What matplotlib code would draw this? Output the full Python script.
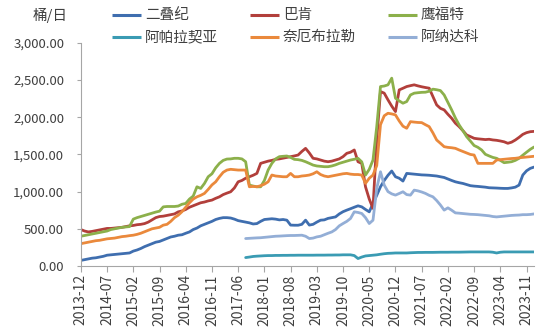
import matplotlib
matplotlib.use("Agg")
import matplotlib.pyplot as plt
import numpy as np
from matplotlib.lines import Line2D
from matplotlib.ticker import FuncFormatter

plt.rcParams["font.family"] = ["Noto Sans CJK SC", "DejaVu Sans"]

# monthly, 2013-12 .. 2024-01
months = [f"{2013 + (11 + k) // 12}-{(11 + k) % 12 + 1:02d}" for k in range(122)]
tick_labels = months[::7][:18]

permian = [
    75, 85, 95, 105, 110, 120, 130, 145, 150, 155, 160, 165,
    170, 175, 200, 215, 235, 260, 280, 300, 320, 330, 350, 370,
    390, 400, 414, 420, 440, 458, 490, 510, 540, 560, 580, 600,
    625, 640, 650, 650, 645, 630, 610, 600, 590, 580, 565, 570,
    600, 625, 630, 635, 630, 620, 625, 616, 550, 548, 548, 560,
    616, 550, 560, 590, 616, 620, 640, 650, 660, 700, 730, 751,
    770, 790, 809, 795, 760, 728, 841, 950, 1065, 1150, 1220, 1277,
    1200, 1180, 1142, 1245, 1240, 1235, 1230, 1225, 1223, 1220, 1215, 1210,
    1200, 1190, 1170, 1150, 1132, 1120, 1110, 1095, 1080, 1074, 1070, 1065,
    1060, 1052, 1050, 1048, 1045, 1043, 1043, 1050, 1060, 1088, 1223, 1280,
    1313, 1330,
]
bakken = [
    490, 470, 458, 465, 475, 485, 495, 505, 505, 510, 515, 520,
    530, 540, 545, 555, 560, 570, 590, 620, 650, 665, 670, 680,
    690, 700, 728, 740, 760, 790, 810, 830, 850, 860, 875, 886,
    910, 930, 960, 980, 998, 1050, 1132, 1150, 1180, 1200, 1220, 1245,
    1380, 1395, 1410, 1420, 1434, 1440, 1450, 1460, 1470, 1480, 1492, 1540,
    1582, 1520, 1448, 1440, 1425, 1410, 1402, 1410, 1425, 1440, 1470, 1515,
    1530, 1560, 1402, 1380, 1065, 900, 774, 1700, 2346, 2324, 2234, 2150,
    2076, 2368, 2390, 2413, 2425, 2436, 2422, 2410, 2400, 2391, 2278, 2166,
    2120, 2099, 2040, 1987, 1920, 1874, 1820, 1762, 1740, 1717, 1710, 1705,
    1700, 1704, 1695, 1690, 1681, 1670, 1650, 1665, 1694, 1730, 1770, 1793,
    1806, 1810,
]
eagle_ford = [
    400, 410, 420, 430, 440, 450, 460, 470, 490, 500, 510, 520,
    525, 530, 630, 650, 665, 680, 695, 710, 725, 737, 795, 800,
    800, 800, 806, 830, 841, 900, 940, 1065, 1043, 1110, 1200, 1240,
    1320, 1380, 1420, 1438, 1440, 1448, 1448, 1440, 1402, 1088, 1075, 1065,
    1065, 1150, 1290, 1380, 1440, 1470, 1475, 1479, 1460, 1434, 1430, 1420,
    1402, 1380, 1357, 1345, 1340, 1335, 1335, 1345, 1360, 1380, 1395, 1410,
    1425, 1435, 1448, 1400, 1223, 1300, 1425, 1874, 2413, 2420, 2436, 2526,
    2256, 2220, 2189, 2211, 2300, 2324, 2330, 2335, 2337, 2350, 2378, 2370,
    2359, 2300, 2200, 2099, 1990, 1897, 1820, 1739, 1680, 1620, 1596, 1560,
    1502, 1480, 1460, 1448, 1420, 1389, 1395, 1402, 1420, 1448, 1490, 1530,
    1569, 1600,
]
appalachia = [None] * 44 + [
    113, 120, 128, 132,
    135, 138, 140, 140, 142, 142, 143, 143, 144, 144, 145, 145,
    145, 145, 145, 146, 146, 146, 147, 147, 148, 148, 150, 150,
    150, 140, 100, 120, 135, 140, 145, 150, 158, 165, 170, 172,
    175, 175, 175, 175, 178, 180, 182, 182, 183, 183, 183, 184,
    185, 185, 185, 186, 186, 186, 187, 188, 189, 189, 189, 189,
    189, 189, 185, 175, 185, 189, 189, 189, 189, 189, 189, 189,
    189, 189,
]
niobrara = [
    300, 310, 320, 330, 340, 345, 355, 365, 370, 375, 385, 395,
    400, 408, 414, 425, 440, 460, 480, 500, 510, 520, 549, 560,
    600, 650, 683, 730, 790, 850, 900, 930, 950, 976, 1030, 1090,
    1132, 1200, 1260, 1290, 1300, 1295, 1290, 1290, 1290, 1065, 1070, 1065,
    1080, 1100, 1132, 1223, 1210, 1205, 1200, 1200, 1245, 1200, 1200, 1210,
    1215, 1223, 1240, 1267, 1230, 1210, 1200, 1210, 1220, 1230, 1240, 1245,
    1235, 1230, 1230, 1223, 1111, 1180, 1223, 1350, 1900, 2020, 2054, 2045,
    2032, 1950, 1880, 1852, 1941, 1935, 1930, 1928, 1900, 1874, 1790, 1694,
    1650, 1604, 1595, 1590, 1582, 1560, 1540, 1520, 1500, 1492, 1380, 1380,
    1380, 1380, 1380, 1425, 1430, 1435, 1440, 1445, 1448, 1455, 1460, 1465,
    1470, 1475,
]
anadarko = [None] * 44 + [
    369, 372, 375, 378,
    380, 385, 390, 395, 400, 402, 405, 408, 410, 410, 412, 414,
    400, 369, 375, 391, 400, 420, 440, 458, 490, 540, 571, 600,
    639, 728, 720, 706, 650, 571, 616, 1043, 1267, 1088, 1000, 970,
    953, 975, 998, 960, 953, 1020, 1010, 995, 976, 950, 930, 880,
    820, 751, 782, 750, 714, 710, 705, 700, 695, 693, 690, 685,
    680, 675, 665, 660, 665, 670, 675, 680, 683, 685, 690, 690,
    693, 700,
]

series = [
    ("二叠纪", permian, "#3F6EAF"),
    ("巴肯", bakken, "#B23F3B"),
    ("鹰福特", eagle_ford, "#8CB04B"),
    ("阿帕拉契亚", appalachia, "#3A9BB3"),
    ("奈厄布拉勒", niobrara, "#EA893C"),
    ("阿纳达科", anadarko, "#93AED6"),
]

W, H = 550, 330
fig = plt.figure(figsize=(W / 100, H / 100), dpi=100)
ax = fig.add_axes([0.147, 0.194, 0.824, 0.676])

x = np.arange(len(months))
for name, vals, color in series:
    y = np.array([np.nan if v is None else v for v in vals], dtype=float)
    ax.plot(x, y, color=color, lw=2.0, solid_capstyle="round")

ax.set_xlim(0, len(months) - 1)
ax.set_ylim(0, 3000)
ax.set_yticks(np.arange(0, 3001, 500))
ax.yaxis.set_major_formatter(FuncFormatter(lambda v, p: f"{v:,.2f}"))
ax.set_xticks(np.arange(0, 7 * len(tick_labels), 7))
ax.set_xticklabels(tick_labels, rotation=90)

for side in ("top", "right"):
    ax.spines[side].set_visible(False)
for side in ("left", "bottom"):
    ax.spines[side].set_color("#A6A6A6")
    ax.spines[side].set_linewidth(0.8)
ax.tick_params(axis="both", colors="#A6A6A6", labelcolor="#404040", width=0.8)
ax.tick_params(axis="y", labelsize=9.5, length=3, pad=9)
ax.tick_params(axis="x", labelsize=10, length=4, pad=2)

fig.text(33 / W, 1 - 15 / H, "桶/日", fontsize=10.5, color="#404040", va="center")

# legend drawn by hand: 3 columns x 2 rows, pixel positions
col_x = [112, 250, 388]
row_y = [15, 37]
for k, (name, vals, color) in enumerate(series):
    cx = col_x[k % 3]
    cy = 1 - row_y[k // 3] / H
    fig.add_artist(Line2D([cx / W, (cx + 29) / W], [cy, cy], transform=fig.transFigure,
                          color=color, lw=2.2, solid_capstyle="butt"))
    fig.text((cx + 33) / W, cy, name, fontsize=10.5, color="#404040", va="center", ha="left")

fig.savefig("out.png", dpi=100)
